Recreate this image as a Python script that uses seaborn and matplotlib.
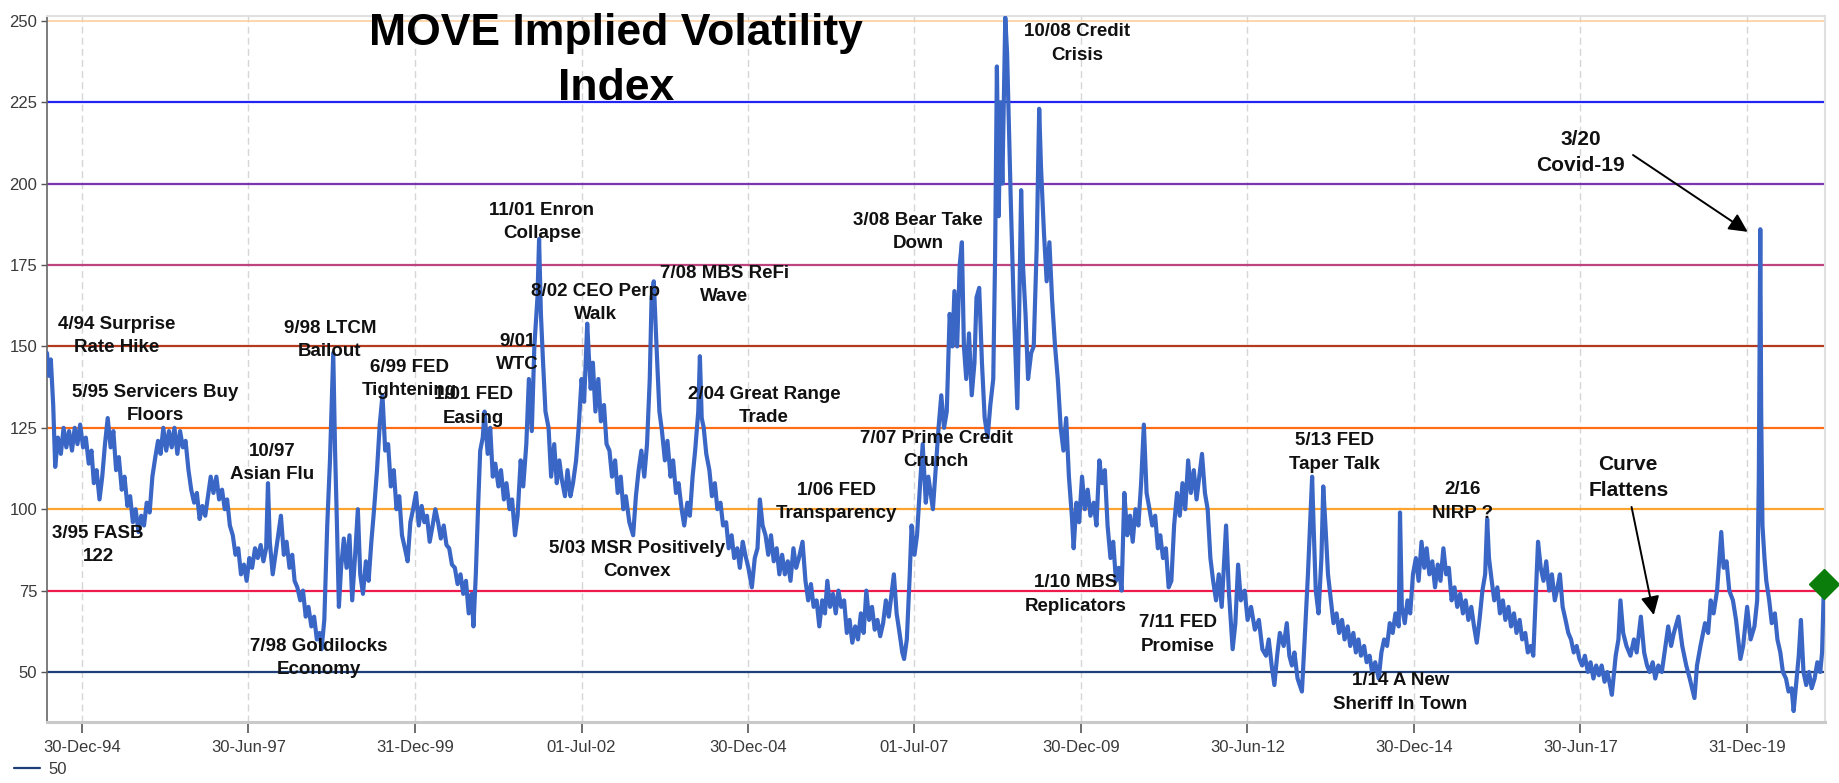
import matplotlib
matplotlib.use("Agg")
import matplotlib.pyplot as plt
import matplotlib.dates as mdates
from matplotlib.lines import Line2D
import seaborn as sns
import pandas as pd

# ---------------- data ----------------
dates = [
    # 1994
    '1994-06-21','1994-07-01','1994-07-12','1994-07-25','1994-08-05','1994-08-20','1994-09-05','1994-09-20','1994-10-05','1994-10-20','1994-11-05','1994-11-20','1994-12-05','1994-12-20',
    # 1995
    '1995-01-05','1995-01-20','1995-02-05','1995-02-20','1995-03-05','1995-03-20','1995-04-05','1995-04-20','1995-05-05','1995-05-20','1995-06-05','1995-06-20','1995-07-05','1995-07-20','1995-08-05','1995-08-20','1995-09-05','1995-09-20','1995-10-05','1995-10-20','1995-11-05','1995-11-20','1995-12-05','1995-12-20',
    # 1996
    '1996-01-05','1996-01-20','1996-02-05','1996-02-20','1996-03-05','1996-03-20','1996-04-05','1996-04-20','1996-05-05','1996-05-20','1996-06-05','1996-06-20','1996-07-05','1996-07-20','1996-08-05','1996-08-20','1996-09-05','1996-09-20','1996-10-05','1996-10-20','1996-11-05','1996-11-20','1996-12-05','1996-12-20',
    # 1997
    '1997-01-05','1997-01-20','1997-02-05','1997-02-20','1997-03-05','1997-03-20','1997-04-05','1997-04-20','1997-05-05','1997-05-20','1997-06-05','1997-06-20','1997-07-05','1997-07-20','1997-08-05','1997-08-20','1997-09-05','1997-09-20','1997-10-05','1997-10-15','1997-10-25','1997-11-10','1997-11-25','1997-12-10','1997-12-25',
    # 1998
    '1998-01-10','1998-01-25','1998-02-10','1998-02-25','1998-03-10','1998-03-25','1998-04-10','1998-04-25','1998-05-10','1998-05-25','1998-06-10','1998-06-25','1998-07-10','1998-07-25','1998-08-05','1998-08-20','1998-09-05','1998-09-20','1998-10-01','1998-10-08','1998-10-18','1998-10-28','1998-11-08','1998-11-20','1998-12-05','1998-12-20',
    # 1999
    '1999-01-05','1999-01-20','1999-02-05','1999-02-20','1999-03-05','1999-03-20','1999-04-05','1999-04-20','1999-05-05','1999-05-20','1999-06-05','1999-06-20','1999-07-05','1999-07-20','1999-08-05','1999-08-20','1999-09-05','1999-09-20','1999-10-05','1999-10-20','1999-11-05','1999-11-20','1999-12-05','1999-12-20',
    # 2000
    '2000-01-05','2000-01-20','2000-02-05','2000-02-20','2000-03-05','2000-03-20','2000-04-05','2000-04-20','2000-05-05','2000-05-20','2000-06-05','2000-06-20','2000-07-05','2000-07-20','2000-08-05','2000-08-20','2000-09-05','2000-09-20','2000-10-05','2000-10-20','2000-11-05','2000-11-15','2000-11-28','2000-12-10','2000-12-22',
    # 2001
    '2001-01-05','2001-01-15','2001-02-01','2001-02-15','2001-03-01','2001-03-15','2001-04-01','2001-04-15','2001-05-01','2001-05-15','2001-06-01','2001-06-15','2001-07-01','2001-07-15','2001-08-01','2001-08-15','2001-09-01','2001-09-15','2001-10-01','2001-10-15','2001-11-01','2001-11-10','2001-11-20','2001-12-01','2001-12-15',
    # 2002
    '2002-01-01','2002-01-15','2002-02-01','2002-02-15','2002-03-01','2002-03-15','2002-04-01','2002-04-15','2002-05-01','2002-05-15','2002-06-01','2002-06-15','2002-07-01','2002-07-15','2002-08-01','2002-08-10','2002-08-20','2002-09-01','2002-09-15','2002-10-01','2002-10-15','2002-11-01','2002-11-15','2002-12-01','2002-12-15',
    # 2003
    '2003-01-01','2003-01-15','2003-02-01','2003-02-15','2003-03-01','2003-03-20','2003-04-10','2003-04-25','2003-05-10','2003-05-25','2003-06-10','2003-06-25','2003-07-10','2003-07-20','2003-08-01','2003-08-10','2003-08-20','2003-09-01','2003-09-15','2003-10-01','2003-10-15','2003-11-01','2003-11-15','2003-12-01','2003-12-15',
    # 2004
    '2004-01-01','2004-01-15','2004-02-01','2004-02-15','2004-03-01','2004-03-15','2004-04-01','2004-04-10','2004-04-20','2004-05-01','2004-05-15','2004-06-01','2004-06-15','2004-07-01','2004-07-15','2004-08-01','2004-08-15','2004-09-01','2004-09-15','2004-10-01','2004-10-15','2004-11-01','2004-11-15','2004-12-01','2004-12-15',
    # 2005
    '2005-01-01','2005-01-20','2005-02-05','2005-02-20','2005-03-05','2005-03-20','2005-04-05','2005-04-20','2005-05-05','2005-05-20','2005-06-05','2005-06-20','2005-07-05','2005-07-20','2005-08-05','2005-08-20','2005-09-05','2005-09-20','2005-10-05','2005-10-25','2005-11-10','2005-11-25','2005-12-10','2005-12-25',
    # 2006
    '2006-01-10','2006-01-25','2006-02-10','2006-02-25','2006-03-10','2006-03-25','2006-04-10','2006-04-25','2006-05-10','2006-05-25','2006-06-10','2006-06-25','2006-07-10','2006-07-25','2006-08-10','2006-08-25','2006-09-10','2006-09-25','2006-10-10','2006-10-25','2006-11-10','2006-11-25','2006-12-10','2006-12-25',
    # 2007
    '2007-01-10','2007-01-25','2007-02-10','2007-02-25','2007-03-10','2007-03-25','2007-04-10','2007-04-25','2007-05-05','2007-05-20','2007-06-05','2007-06-15','2007-07-01','2007-07-15','2007-08-01','2007-08-15','2007-09-01','2007-09-15','2007-10-10','2007-10-25','2007-11-10','2007-11-25','2007-12-10','2007-12-25',
    # 2008
    '2008-01-10','2008-01-25','2008-02-05','2008-02-20','2008-03-05','2008-03-17','2008-03-28','2008-04-10','2008-04-25','2008-05-10','2008-05-25','2008-06-05','2008-06-20','2008-07-05','2008-07-20','2008-08-05','2008-08-20','2008-09-05','2008-09-15','2008-09-25','2008-10-05','2008-10-15','2008-10-25','2008-11-10','2008-11-20','2008-12-01','2008-12-10','2008-12-25',
    # 2009
    '2009-01-15','2009-01-25','2009-02-05','2009-02-15','2009-03-01','2009-03-15','2009-04-01','2009-04-15','2009-05-01','2009-05-15','2009-05-25','2009-06-10','2009-06-25','2009-07-10','2009-07-25','2009-08-10','2009-08-25','2009-09-10','2009-09-25','2009-10-10','2009-10-25','2009-11-10','2009-11-20','2009-12-05','2009-12-20',
    # 2010
    '2010-01-05','2010-01-20','2010-02-05','2010-02-20','2010-03-10','2010-03-25','2010-04-10','2010-04-25','2010-05-10','2010-05-25','2010-06-10','2010-06-25','2010-07-10','2010-07-25','2010-08-10','2010-08-25','2010-09-10','2010-09-25','2010-10-10','2010-10-25','2010-11-10','2010-11-25','2010-12-10','2010-12-25',
    # 2011
    '2011-01-10','2011-01-25','2011-02-10','2011-02-25','2011-03-10','2011-03-25','2011-04-10','2011-04-25','2011-05-10','2011-05-25','2011-06-10','2011-06-25','2011-07-10','2011-07-25','2011-08-10','2011-08-25','2011-09-10','2011-09-25','2011-10-10','2011-10-25','2011-11-10','2011-11-25','2011-12-10','2011-12-25',
    # 2012
    '2012-01-10','2012-01-25','2012-02-10','2012-03-05','2012-03-20','2012-04-10','2012-04-25','2012-05-10','2012-05-25','2012-06-15','2012-07-01','2012-07-20','2012-08-10','2012-09-01','2012-09-20','2012-10-10','2012-10-25','2012-11-10','2012-11-25','2012-12-10','2012-12-25',
    # 2013
    '2013-01-15','2013-02-01','2013-02-15','2013-03-01','2013-03-15','2013-04-01','2013-04-25','2013-05-10','2013-05-28','2013-06-20','2013-06-28','2013-07-10','2013-07-25','2013-08-10','2013-08-20','2013-09-01','2013-09-15','2013-10-01','2013-10-15','2013-11-01','2013-11-15','2013-12-01','2013-12-15',
    # 2014
    '2014-01-01','2014-01-15','2014-02-01','2014-02-15','2014-03-01','2014-03-15','2014-04-01','2014-04-15','2014-05-01','2014-05-15','2014-06-01','2014-06-20','2014-07-05','2014-07-20','2014-08-05','2014-08-20','2014-09-05','2014-09-20','2014-10-08','2014-10-15','2014-10-25','2014-11-10','2014-11-25','2014-12-10','2014-12-25',
    # 2015
    '2015-01-10','2015-01-25','2015-02-10','2015-02-25','2015-03-10','2015-03-25','2015-04-10','2015-04-25','2015-05-10','2015-05-25','2015-06-10','2015-06-25','2015-07-10','2015-07-25','2015-08-10','2015-08-25','2015-09-10','2015-09-25','2015-10-10','2015-10-25','2015-11-10','2015-11-25','2015-12-10','2015-12-25',
    # 2016
    '2016-01-10','2016-01-25','2016-02-05','2016-02-15','2016-03-01','2016-03-15','2016-04-01','2016-04-15','2016-05-01','2016-05-15','2016-06-01','2016-06-15','2016-07-01','2016-07-15','2016-08-01','2016-08-15','2016-09-01','2016-09-15','2016-10-01','2016-10-15','2016-11-10','2016-11-25','2016-12-10','2016-12-25',
    # 2017
    '2017-01-10','2017-01-25','2017-02-10','2017-02-25','2017-03-10','2017-03-25','2017-04-10','2017-04-25','2017-05-10','2017-05-25','2017-06-10','2017-06-25','2017-07-10','2017-07-25','2017-08-10','2017-08-25','2017-09-10','2017-09-25','2017-10-10','2017-10-25','2017-11-10','2017-11-25','2017-12-10','2017-12-20',
    # 2018
    '2018-01-10','2018-01-25','2018-02-05','2018-02-20','2018-03-10','2018-04-01','2018-04-20','2018-05-05','2018-05-28','2018-06-15','2018-07-01','2018-07-15','2018-08-01','2018-08-15','2018-09-01','2018-09-20','2018-10-10','2018-10-25','2018-11-10','2018-11-25','2018-12-20',
    # 2019
    '2019-01-10','2019-02-01','2019-02-20','2019-03-18','2019-04-01','2019-04-20','2019-05-15','2019-06-01','2019-06-15','2019-07-01','2019-07-20','2019-08-12','2019-08-25','2019-09-10','2019-09-25','2019-10-15','2019-11-01','2019-11-25','2019-12-10',
    # 2020
    '2020-01-01','2020-01-20','2020-02-10','2020-02-25','2020-03-05','2020-03-10','2020-03-13','2020-03-18','2020-03-25','2020-04-05','2020-04-15','2020-05-01','2020-05-15','2020-06-01','2020-06-15','2020-07-01','2020-07-15','2020-08-01','2020-08-15','2020-09-01','2020-09-12','2020-09-25','2020-10-10','2020-10-22','2020-11-05','2020-11-20','2020-12-05','2020-12-20',
    # 2021
    '2021-01-05','2021-01-20','2021-02-05','2021-02-15','2021-02-25',
]

move = [
    148,141,146,132,113,122,117,125,119,124,118,125,120,126,
    119,122,114,118,108,112,103,110,120,128,119,124,112,116,106,110,101,104,96,100,93,98,95,102,
    99,110,116,121,117,125,118,124,119,125,117,124,119,121,112,106,102,105,97,101,98,104,110,105,
    110,103,106,100,103,95,92,86,88,80,83,78,85,82,88,85,89,84,88,108,90,80,86,92,98,
    86,90,82,86,78,76,72,75,67,70,64,67,60,62,57,66,95,115,135,148,118,96,70,82,91,82,
    92,72,86,100,80,74,84,78,90,100,112,126,135,118,120,107,112,100,104,92,88,84,96,100,
    105,95,101,96,98,90,95,100,96,91,95,89,88,83,82,77,80,74,78,68,74,64,80,100,118,
    122,130,117,125,110,114,107,112,103,108,100,103,92,98,115,107,120,140,124,150,165,183,160,146,130,
    125,110,120,108,115,109,104,112,104,108,115,125,140,133,157,147,137,145,130,140,127,132,120,118,110,
    115,105,110,100,104,96,92,104,112,118,110,120,140,165,170,158,145,130,124,115,121,110,115,105,108,
    100,95,102,98,110,118,130,147,128,125,117,112,104,108,100,102,95,96,88,92,85,88,82,90,86,
    82,76,85,88,103,95,92,86,92,84,88,80,86,80,84,78,88,82,85,90,78,72,77,70,
    72,64,72,68,78,70,74,68,75,70,72,62,66,59,64,60,68,62,75,66,70,63,66,61,
    65,72,67,74,80,68,62,56,54,60,80,95,86,92,108,120,102,110,100,112,125,135,125,130,
    160,150,167,150,175,182,150,140,154,135,145,165,168,145,128,122,132,140,177,236,190,225,200,251,240,215,195,165,
    131,160,198,175,160,140,148,150,180,223,205,185,170,182,164,150,140,125,118,128,110,98,88,102,96,
    110,100,106,98,102,95,115,108,112,95,85,90,78,82,75,105,92,98,90,100,95,108,126,105,
    100,95,98,88,92,85,88,76,78,95,105,98,108,100,115,105,112,103,110,117,105,100,85,78,
    72,80,70,95,75,57,65,83,72,75,66,70,63,66,57,55,60,52,46,55,62,
    58,65,55,52,56,48,44,60,80,110,95,75,68,85,107,95,80,72,65,68,62,66,60,
    64,58,62,56,60,55,58,53,55,50,53,48,56,60,58,65,62,68,64,99,70,65,72,68,80,
    85,78,90,82,88,80,84,76,83,78,88,80,82,72,76,70,74,68,72,66,70,64,59,66,
    75,80,97,85,78,72,76,68,72,66,70,64,68,62,66,60,62,56,58,55,90,82,78,84,
    75,80,72,76,80,70,66,62,60,56,58,54,52,55,50,53,48,52,49,52,47,50,46,43,
    55,60,72,62,58,55,60,56,67,56,52,50,53,48,52,50,58,64,58,62,67,
    58,52,48,42,52,58,65,62,72,68,75,93,82,84,75,72,66,54,58,
    70,60,64,72,110,160,186,130,95,85,78,72,65,68,60,56,50,48,44,45,38,46,55,66,50,46,50,45,
    48,53,50,56,77,
]
assert len(dates) == len(move), (len(dates), len(move))

levels = [50, 75, 100, 125, 150, 175, 200, 225, 250]
level_colors = ['#1E3F78', '#EE1B4C', '#FFA42E', '#FF6E16', '#B23A1E',
                '#BE4480', '#7A36B0', '#2424F2', '#FFCB96']

tick_dates = ['1994-12-30', '1997-06-30', '1999-12-31', '2002-07-01', '2004-12-30',
              '2007-07-01', '2009-12-30', '2012-06-30', '2014-12-30', '2017-06-30',
              '2019-12-31']

note_text = ['4/94 Surprise\nRate Hike', '5/95 Servicers Buy\nFloors', '3/95 FASB\n122',
             '10/97\nAsian Flu', '7/98 Goldilocks\nEconomy', '9/98 LTCM\nBailout',
             '6/99 FED\nTightening', '1/01 FED\nEasing', '9/01\nWTC', '11/01 Enron\nCollapse',
             '8/02 CEO Perp\nWalk', '7/08 MBS ReFi\nWave', '2/04 Great Range\nTrade',
             '5/03 MSR Positively\nConvex', '1/06 FED\nTransparency', '7/07 Prime Credit\nCrunch',
             '3/08 Bear Take\nDown', '10/08 Credit\nCrisis', '1/10 MBS\nReplicators',
             '7/11 FED\nPromise', '5/13 FED\nTaper Talk', '2/16\nNIRP ?', '1/14 A New\nSheriff In Town']
note_dates = ['1995-07-08', '1996-02-03', '1995-03-28', '1997-11-06', '1998-07-19', '1998-09-20',
              '1999-12-01', '2000-11-14', '2001-07-13', '2001-11-25', '2002-09-13', '2004-08-21',
              '2005-03-28', '2003-05-01', '2006-05-01', '2007-10-27', '2007-07-20', '2009-12-08',
              '2009-12-01', '2011-06-14', '2013-10-19', '2015-09-24', '2014-10-16']
note_values = [153.2, 132.3, 89.0, 114.2, 54.3, 152.0, 140.0, 131.6, 148.0, 188.3, 163.4, 168.9,
               131.7, 84.4, 102.2, 118.2, 185.2, 243.1, 73.8, 61.5, 117.4, 102.4, 43.7]

arrow_text = ['3/20\nCovid-19', 'Curve\nFlattens']
arrow_text_dates = ['2017-07-01', '2018-03-20']
arrow_text_values = [209.6, 109.8]
arrow_tail_dates = ['2018-04-15', '2018-04-07']
arrow_tail_values = [208.8, 100.7]
arrow_head_dates = ['2020-01-04', '2018-08-07']
arrow_head_values = [185.2, 67.5]

title_lines = ['MOVE Implied Volatility', 'Index']

# ---------------- style ----------------
sns.set_style('white')
plt.rcParams['font.family'] = ['Liberation Sans', 'DejaVu Sans']

W, H = 1839, 783
fig = plt.figure(figsize=(W / 100, H / 100), dpi=100)
ax = fig.add_axes([47 / W, 61 / H, (1825 - 47) / W, (722 - 16) / H])
ax.set_facecolor('white')

for lv, c in zip(levels, level_colors):
    ax.axhline(lv, color=c, lw=1.1 if lv == 250 else 1.6, zorder=1)

x = pd.to_datetime(dates)
sns.lineplot(x=x, y=move, ax=ax, color='#3A66C6', lw=3.0, estimator=None, zorder=3)
ax.plot(x[-1], move[-1], marker='D', ms=15, color='#0B7D0B', zorder=6, clip_on=False)

ax.set_xlim(pd.Timestamp('1994-06-21'), pd.Timestamp('2021-03-03'))
ax.set_ylim(34.64, 251.5)
ax.set_yticks(levels)
ax.set_xticks(pd.to_datetime(tick_dates))
ax.xaxis.set_major_formatter(mdates.DateFormatter('%d-%b-%y'))
ax.set_xlabel('')
ax.set_ylabel('')
ax.tick_params(axis='y', direction='out', length=4, width=1, color='#555555',
               labelsize=12, labelcolor='#3A3A3A', pad=3, left=True)
ax.tick_params(axis='x', direction='out', length=8, width=1.2, color='#555555',
               labelsize=12, labelcolor='#3A3A3A', pad=5, bottom=True)
ax.grid(axis='x', linestyle=(0, (5, 3)), color='#D6D6D6', lw=1, zorder=0)
ax.grid(axis='y', visible=False)

ax.spines['left'].set_color('#666666')
ax.spines['left'].set_linewidth(1.2)
ax.spines['bottom'].set_color('#C9C9C9')
ax.spines['bottom'].set_linewidth(2.2)
for s in ['top', 'right']:
    ax.spines[s].set_color('#E0E0E0')
    ax.spines[s].set_linewidth(1.5)

for t, d, v in zip(note_text, note_dates, note_values):
    ax.text(pd.Timestamp(d), v, t, ha='center', va='center', multialignment='center',
            fontsize=13.5, fontweight='bold', color='#111111', linespacing=1.5, zorder=5)

for t, d, v in zip(arrow_text, arrow_text_dates, arrow_text_values):
    ax.text(pd.Timestamp(d), v, t, ha='center', va='center', multialignment='center',
            fontsize=15, fontweight='bold', color='#111111', linespacing=1.5, zorder=5)

for td, tv, hd, hv in zip(arrow_tail_dates, arrow_tail_values, arrow_head_dates, arrow_head_values):
    ax.annotate('', xy=(pd.Timestamp(hd), hv), xytext=(pd.Timestamp(td), tv),
                arrowprops=dict(arrowstyle='-|>', color='black', lw=1.4, mutation_scale=28,
                                shrinkA=0, shrinkB=0), zorder=6)

fig.text(616 / W, 1 - 33 / H, title_lines[0], ha='center', va='center',
         fontsize=32, fontweight='bold', color='black')
fig.text(616 / W, 1 - 88 / H, title_lines[1], ha='center', va='center',
         fontsize=32, fontweight='bold', color='black')

leg_handle = Line2D([0], [0], color=level_colors[0], lw=1.6)
fig.legend(handles=[leg_handle], labels=['50'], loc='center left',
           bbox_to_anchor=(2 / W, 14 / H), frameon=False, fontsize=12,
           handlelength=1.6, handletextpad=0.5, borderpad=0.2, labelcolor='#3A3A3A')

fig.savefig('out.png', dpi=100, facecolor='white')
